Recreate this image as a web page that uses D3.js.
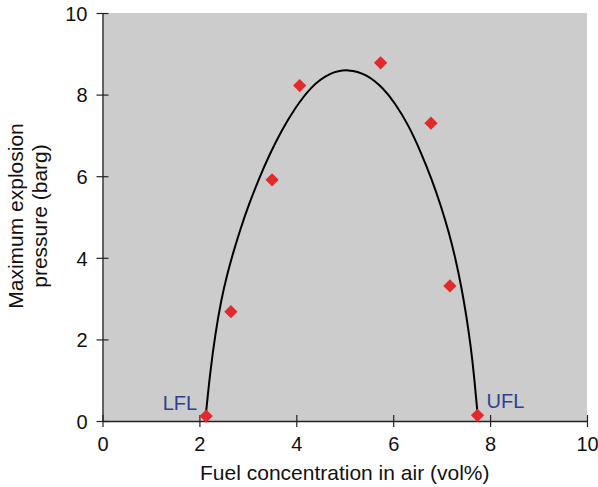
<!DOCTYPE html>
<html>
<head>
<meta charset="utf-8">
<script src="https://cdn.jsdelivr.net/npm/d3@7"></script>
<style>
  body { margin: 0; background: #fff; }
  svg { font-family: 'Liberation Sans', Arial, sans-serif; }
</style>
</head>
<body>
<div id="graf"></div>
<script>
// measured points (vol% fuel, barg)
const fuelConc    = [2.14, 2.65, 3.50, 4.07, 5.74, 6.78, 7.17, 7.74]
const maxPressure = [0.12, 2.68, 5.91, 8.22, 8.78, 7.30, 3.31, 0.14]

// fitted curve
const fitX = [2.128, 2.136, 2.219, 2.330, 2.450, 2.570, 2.700, 2.853, 3.015, 3.236, 3.443,
              3.691, 3.961, 4.310, 4.696, 5.073, 5.453, 5.796, 6.037, 6.312, 6.553, 6.801,
              6.992, 7.155, 7.292, 7.407, 7.513, 7.602, 7.671, 7.734, 7.745]
const fitY = [0.10, 0.19, 1.17, 2.15, 2.97, 3.58, 4.14, 4.73, 5.29, 5.96, 6.52,
              7.11, 7.65, 8.21, 8.54, 8.63, 8.50, 8.16, 7.79, 7.26, 6.64, 5.91,
              5.25, 4.60, 3.95, 3.29, 2.56, 1.82, 1.09, 0.27, 0.12]

const xTicks = [0, 2, 4, 6, 8, 10]
const yTicks = [0, 2, 4, 6, 8, 10]

const anchoTotal = 598
const altoTotal = 487
const margen = { superior: 13, izquierdo: 102.5, derecho: 11, inferior: 66 }
const ancho = anchoTotal - margen.izquierdo - margen.derecho
const alto = altoTotal - margen.superior - margen.inferior

const svg = d3.select('#graf').append('svg')
  .attr('width', anchoTotal)
  .attr('height', altoTotal)

const g = svg.append('g')
  .attr('transform', `translate(${margen.izquierdo}, ${margen.superior})`)

const x = d3.scaleLinear().domain([0, 10]).range([0, ancho])
const y = d3.scaleLinear().domain([0, 10]).range([alto, 0])

// gray plot background
g.append('rect')
  .attr('width', ancho)
  .attr('height', alto)
  .attr('fill', '#cccccc')

/******** AXES ********/
const xAxisGroup = g.append('g')
  .attr('transform', `translate(0, ${alto})`)
  .call(d3.axisBottom(x).tickValues(xTicks).tickSize(6).tickSizeOuter(0).tickPadding(10))
const yAxisGroup = g.append('g')
  .call(d3.axisLeft(y).tickValues(yTicks).tickSize(6).tickSizeOuter(0).tickPadding(9))

// ticks cross the axis line
xAxisGroup.selectAll('.tick line').attr('y1', -6).attr('y2', 6)
yAxisGroup.selectAll('.tick line').attr('x1', -6).attr('x2', 6)

for (const ax of [xAxisGroup, yAxisGroup]) {
  ax.select('.domain').attr('stroke', '#222').attr('stroke-width', 1.3)
  ax.selectAll('.tick line').attr('stroke', '#222').attr('stroke-width', 1.2)
  ax.selectAll('.tick text')
    .attr('font-size', 20)
    .attr('font-family', "'Liberation Sans', Arial, sans-serif")
    .attr('fill', '#111')
}
yAxisGroup.selectAll('.tick text').attr('dy', '0.36em')

/******** CURVE ********/
// basis smooths out the reading noise of the traced points
const fitData = fitX.map((d, i) => ({ x: d, y: fitY[i] }))
g.append('path')
  .datum(fitData)
  .attr('fill', 'none')
  .attr('stroke', '#000')
  .attr('stroke-width', 2)
  .attr('d', d3.line()
    .x(d => x(d.x))
    .y(d => y(d.y))
    .curve(d3.curveBasis))

/******** POINTS ********/
const puntos = fuelConc.map((d, i) => ({ x: d, y: maxPressure[i] }))
g.selectAll('.punto')
  .data(puntos)
  .enter().append('path')
  .attr('class', 'punto')
  .attr('d', d3.symbol().type(d3.symbolSquare).size(88))
  .attr('transform', d => `translate(${x(d.x)}, ${y(d.y)}) rotate(45)`)
  .attr('fill', '#e22a2c')

/******** LABELS ********/
const pLFL = puntos[0]
const pUFL = puntos[puntos.length - 1]
g.append('text')
  .attr('x', x(pLFL.x) - 9)
  .attr('y', y(pLFL.y) - 6)
  .attr('text-anchor', 'end')
  .attr('font-size', 20)
  .attr('fill', '#2f3f90')
  .text('LFL')
g.append('text')
  .attr('x', x(pUFL.x) + 9)
  .attr('y', y(pUFL.y) - 7)
  .attr('font-size', 20)
  .attr('fill', '#2f3f90')
  .text('UFL')

// axis titles
svg.append('text')
  .attr('x', margen.izquierdo + ancho / 2)
  .attr('y', 480)
  .attr('text-anchor', 'middle')
  .attr('font-size', 21)
  .attr('fill', '#111')
  .text('Fuel concentration in air (vol%)')

const yTitulo = svg.append('text')
  .attr('transform', `translate(0, ${margen.superior + alto / 2 - 1}) rotate(-90)`)
  .attr('text-anchor', 'middle')
  .attr('font-size', 21)
  .attr('fill', '#111')
yTitulo.append('tspan').attr('x', 0).attr('y', 23).text('Maximum explosion')
yTitulo.append('tspan').attr('x', 0).attr('y', 47).text('pressure (barg)')
</script>
</body>
</html>
